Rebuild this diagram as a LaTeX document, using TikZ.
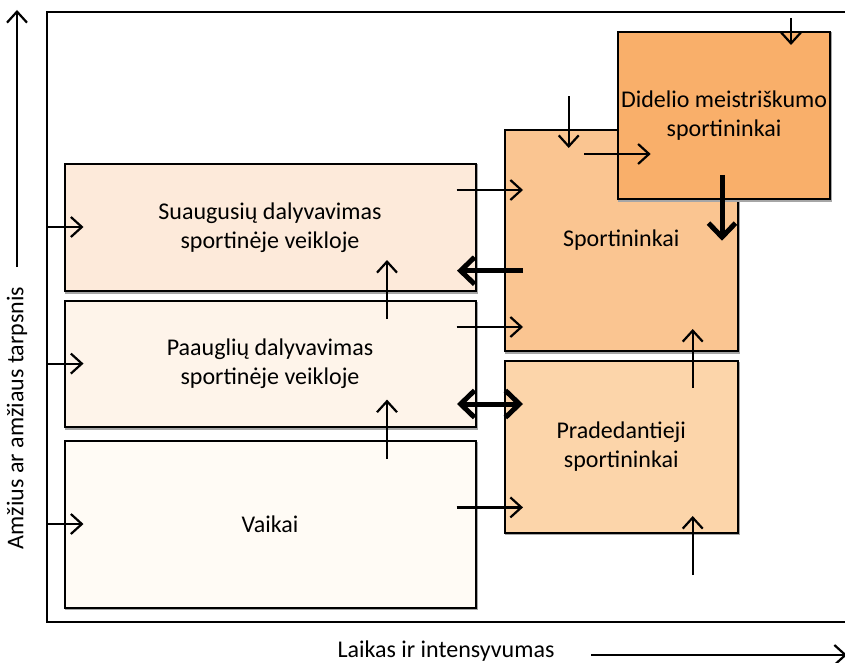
\documentclass[tikz,border=0pt]{standalone}
\usepackage{fontspec}
\setmainfont{Carlito}
\usetikzlibrary{arrows.meta}
\definecolor{adultfill}{RGB}{253,234,218}
\definecolor{teenfill}{RGB}{254,244,234}
\definecolor{kidfill}{RGB}{255,251,245}
\definecolor{athletefill}{RGB}{250,197,145}
\definecolor{beginnerfill}{RGB}{252,213,170}
\definecolor{elitefill}{RGB}{249,175,106}
\begin{document}
\begin{tikzpicture}[x=1pt,y=-1pt,
  box/.style={draw=black, line width=2pt, rectangle, inner sep=0pt,
    align=center, font=\fontsize{24}{28.8}\selectfont,
    preaction={draw=black!35, line width=2pt, transform canvas={shift={(1pt,-1.5pt)}}}},
  lbl/.style={inner sep=0pt, font=\fontsize{24}{28.8}\selectfont},
  thinarrow/.style={line width=2.2pt, -{Straight Barb[length=11pt,width=20pt]}},
  thickarrow/.style={line width=5pt, -{Straight Barb[length=14pt,width=27pt]}},
  thickboth/.style={line width=5pt, {Straight Barb[length=14pt,width=27pt]}-{Straight Barb[length=14pt,width=27pt]}}
]
\useasboundingbox (0,0) rectangle (845,663);

% outer frame (open to the right)
\draw[line width=2pt] (860,12) -- (46.5,12) -- (46.5,622) -- (860,622);

% age groups
\node[box, fill=adultfill, minimum width=411pt, minimum height=127pt] (adult) at (270,227.5)
  {Suaugusių dalyvavimas\\sportinėje veikloje};
\node[box, fill=teenfill, minimum width=411pt, minimum height=126pt] (teen) at (270,364)
  {Paauglių dalyvavimas\\sportinėje veikloje};
\node[box, fill=kidfill, minimum width=411pt, minimum height=166.5pt] (kid) at (270,524.25)
  {Vaikai};

% athlete levels
\node[box, fill=athletefill, minimum width=232.5pt, minimum height=221pt] (athlete) at (621.25,240.5)
  {Sportininkai};
\node[box, fill=beginnerfill, minimum width=232.5pt, minimum height=171.5pt] (beginner) at (621.25,446.75)
  {Pradedantieji\\sportininkai};
\node[box, fill=elitefill, minimum width=212pt, minimum height=167pt] (elite) at (724,115.5)
  {Didelio meistriškumo\\sportininkai};

% axes
\node[lbl, rotate=90] (ylabel) at (17,418) {Amžius ar amžiaus tarpsnis};
\coordinate (ya) at (17,267);
\coordinate (yb) at (17,10);
\draw[thinarrow] (ya) -- (yb);
\node[lbl] (xlabel) at (446,651) {Laikas ir intensyvumas};
\coordinate (xa) at (591,655);
\coordinate (xb) at (847,655);
\draw[thinarrow] (xa) -- (xb);

% entries from the frame into the age groups
\coordinate (e1) at (46.5,227);   \coordinate (e1t) at (83.5,227);
\coordinate (e2) at (46.5,363.6); \coordinate (e2t) at (83.5,363.6);
\coordinate (e3) at (46.5,524);   \coordinate (e3t) at (83.5,524);
\draw[thinarrow] (e1) -- (e1t);
\draw[thinarrow] (e2) -- (e2t);
\draw[thinarrow] (e3) -- (e3t);

% age groups towards athlete levels
\coordinate (r1) at (456.6,190);   \coordinate (r1t) at (523,190);
\coordinate (r2) at (456.6,327);   \coordinate (r2t) at (523,327);
\coordinate (r3) at (456.6,507.4); \coordinate (r3t) at (523,507.4);
\draw[thinarrow] (r1) -- (r1t);
\draw[thinarrow] (r2) -- (r2t);
\draw[thinarrow] (r3) -- (r3t);

% growing up
\coordinate (u1) at (387,319); \coordinate (u1t) at (387,260);
\coordinate (u2) at (387,459); \coordinate (u2t) at (387,399.6);
\draw[thinarrow] (u1) -- (u1t);
\draw[thinarrow] (u2) -- (u2t);

% progression of athletes
\coordinate (p1) at (692.7,388); \coordinate (p1t) at (692.7,329);
\coordinate (p2) at (692.7,575); \coordinate (p2t) at (692.7,516);
\draw[thinarrow] (p1) -- (p1t);
\draw[thinarrow] (p2) -- (p2t);
\coordinate (d1) at (568.7,96.4); \coordinate (d1t) at (568.7,148);
\coordinate (d2) at (791,18);     \coordinate (d2t) at (791,45);
\draw[thinarrow] (d1) -- (d1t);
\draw[thinarrow] (d2) -- (d2t);
\coordinate (s1) at (584,154); \coordinate (s1t) at (650.7,154);
\draw[thinarrow] (s1) -- (s1t);

% strong flows
\coordinate (k1) at (722,175);   \coordinate (k1t) at (722,240.7);
\draw[thickarrow] (k1) -- (k1t);
\coordinate (k2) at (523,270.7); \coordinate (k2t) at (457,270.7);
\draw[thickarrow] (k2) -- (k2t);
\coordinate (k3) at (457,404);   \coordinate (k3t) at (523,404);
\draw[thickboth] (k3) -- (k3t);
\end{tikzpicture}
\end{document}
